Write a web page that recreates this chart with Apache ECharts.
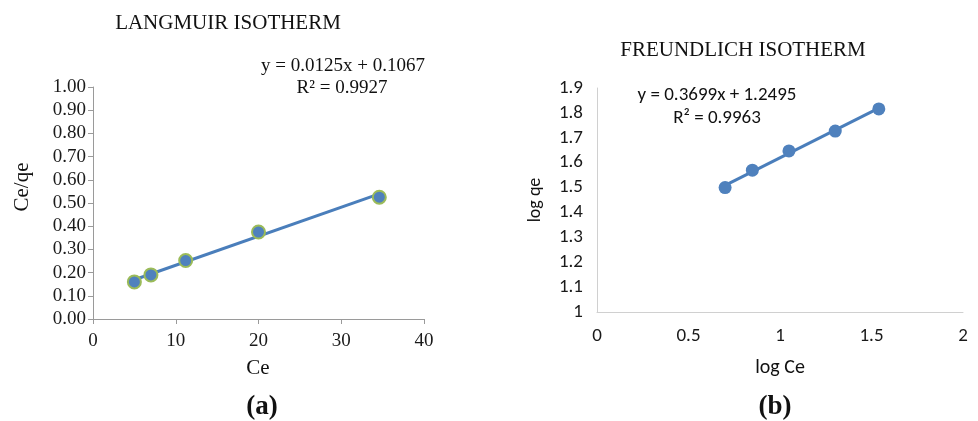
<!DOCTYPE html>
<html><head><meta charset="utf-8">
<script src="https://cdn.jsdelivr.net/npm/echarts@6/dist/echarts.min.js"></script>
<style>html,body{margin:0;padding:0;background:#fff}#c{width:978px;height:421px}</style>
</head><body><div id="c"></div>
<script>
// Langmuir data
const langCe = [5, 7, 11.2, 20, 34.6];
const langCeQe = [0.16, 0.19, 0.252, 0.375, 0.525];
const langSlope = 0.0125, langIntercept = 0.1067, langR2 = 0.9927;
const langYTicks = [0, 1, 0.1];   // min, max, interval
const langXTicks = [0, 40, 10];
// Freundlich data
const freLogCe = [0.70, 0.849, 1.049, 1.302, 1.540];
const freLogQe = [1.500, 1.570, 1.647, 1.727, 1.816];
const freSlope = 0.3699, freIntercept = 1.2495, freR2 = 0.9963;
const freYTicks = [1, 1.9, 0.1];
const freXTicks = [0, 2, 0.5];

const serif = '"Liberation Serif","Times New Roman",serif';
const sans = 'Carlito, Lato, "Open Sans", sans-serif';

function pairs(xs, ys){ return xs.map((x,i)=>[x, ys[i]]); }
function trend(xs, m, b){ const a=Math.min(...xs), z=Math.max(...xs); return [[a, m*a+b],[z, m*z+b]]; }

const chart = echarts.init(document.getElementById('c'), null, {renderer:'canvas'});
const lineCol = '#4a7ebb';
chart.setOption({
  animation:false,
  backgroundColor:'#fff',
  grid:[
    {left:93, top:87, width:331, height:232},
    {left:597, top:88, width:366, height:224}
  ],
  xAxis:[
    {gridIndex:0, type:'value', min:langXTicks[0], max:langXTicks[1], interval:langXTicks[2],
     axisLine:{lineStyle:{color:'#9a9a9a'}}, axisTick:{show:true, length:5, lineStyle:{color:'#9a9a9a'}},
     splitLine:{show:false}, axisLabel:{color:'#1a1a1a', fontFamily:serif, fontSize:19, margin:13}},
    {gridIndex:1, type:'value', min:freXTicks[0], max:freXTicks[1], interval:freXTicks[2],
     axisLine:{lineStyle:{color:'#d0d0d0'}}, axisTick:{show:false},
     splitLine:{show:false}, axisLabel:{color:'#1a1a1a', fontFamily:sans, fontSize:19, margin:15,
       formatter:v=>String(+v.toFixed(1))}}
  ],
  yAxis:[
    {gridIndex:0, type:'value', min:langYTicks[0], max:langYTicks[1], interval:langYTicks[2],
     axisLine:{show:true, lineStyle:{color:'#9a9a9a'}}, axisTick:{show:true, length:5, lineStyle:{color:'#9a9a9a'}},
     splitLine:{show:false}, axisLabel:{color:'#1a1a1a', fontFamily:serif, fontSize:19, margin:7,
       formatter:v=>v.toFixed(2)}},
    {gridIndex:1, type:'value', min:freYTicks[0], max:freYTicks[1], interval:freYTicks[2],
     axisLine:{show:true, lineStyle:{color:'#d0d0d0'}}, axisTick:{show:false},
     splitLine:{show:false}, axisLabel:{color:'#1a1a1a', fontFamily:sans, fontSize:19, margin:14,
       formatter:v=>String(+v.toFixed(1))}}
  ],
  series:[
    {type:'line', xAxisIndex:0, yAxisIndex:0, data:trend(langCe, langSlope, langIntercept),
     symbol:'none', lineStyle:{color:lineCol, width:3}, z:2},
    {type:'scatter', xAxisIndex:0, yAxisIndex:0, data:pairs(langCe, langCeQe), symbolSize:13,
     itemStyle:{color:'#4f81bd', borderColor:'#9bbb59', borderWidth:2, opacity:1}, z:3},
    {type:'line', xAxisIndex:1, yAxisIndex:1, data:trend(freLogCe, freSlope, freIntercept),
     symbol:'none', lineStyle:{color:lineCol, width:3}, z:2},
    {type:'scatter', xAxisIndex:1, yAxisIndex:1, data:pairs(freLogCe, freLogQe), symbolSize:13,
     itemStyle:{color:'#4f81bd', opacity:1}, z:3}
  ],
  graphic:[
    {type:'text', style:{text:'LANGMUIR ISOTHERM', font:'21px '+serif, fill:'#111', x:228, y:23, align:'center', verticalAlign:'middle'}},
    {type:'text', style:{text:'y = '+langSlope+'x + '+langIntercept, font:'19px '+serif, fill:'#111', x:343, y:66, align:'center', verticalAlign:'middle'}},
    {type:'text', style:{text:'R² = '+langR2, font:'19px '+serif, fill:'#111', x:342, y:88, align:'center', verticalAlign:'middle'}},
    {type:'text', style:{text:'Ce/qe', font:'21px '+serif, fill:'#111', align:'center', verticalAlign:'middle'}, x:22, y:187, rotation:Math.PI/2},
    {type:'text', style:{text:'Ce', font:'21px '+serif, fill:'#111', x:258, y:368, align:'center', verticalAlign:'middle'}},
    {type:'text', style:{text:'(a)', font:'bold 27px '+serif, fill:'#111', x:262, y:407, align:'center', verticalAlign:'middle'}},
    {type:'text', style:{text:'FREUNDLICH ISOTHERM', font:'21px '+serif, fill:'#111', x:743, y:50, align:'center', verticalAlign:'middle'}},
    {type:'text', style:{text:'y = '+freSlope+'x + '+freIntercept, font:'19px '+sans, fill:'#111', x:717, y:95, align:'center', verticalAlign:'middle'}},
    {type:'text', style:{text:'R² = '+freR2, font:'19px '+sans, fill:'#111', x:717, y:118, align:'center', verticalAlign:'middle'}},
    {type:'text', style:{text:'log qe', font:'18px '+sans, fill:'#111', align:'center', verticalAlign:'middle'}, x:535, y:200, rotation:Math.PI/2},
    {type:'text', style:{text:'log Ce', font:'20px '+sans, fill:'#111', x:780, y:368, align:'center', verticalAlign:'middle'}},
    {type:'text', style:{text:'(b)', font:'bold 27px '+serif, fill:'#111', x:775, y:407, align:'center', verticalAlign:'middle'}}
  ]
});
</script></body></html>
